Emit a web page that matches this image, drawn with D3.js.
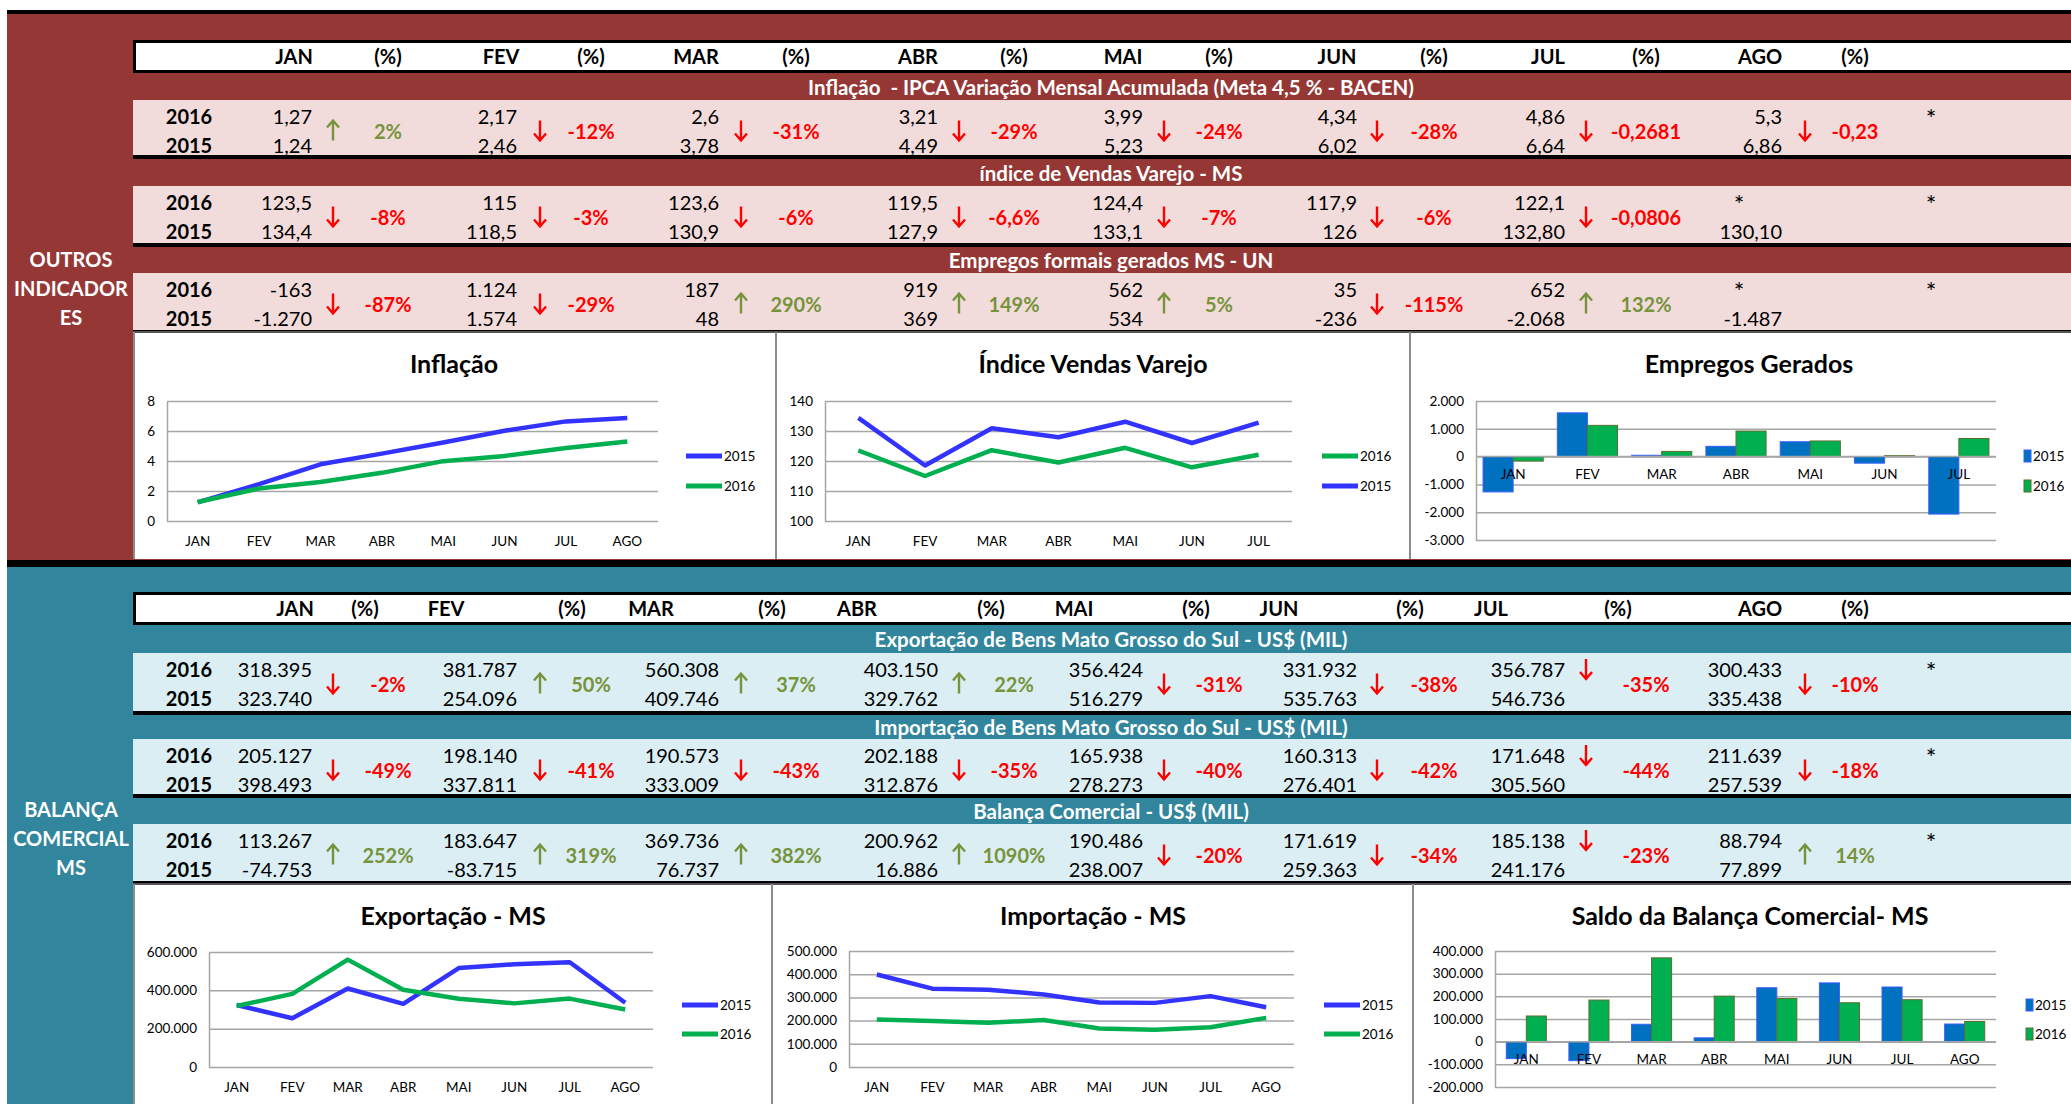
<!DOCTYPE html>
<html>
<head>
<meta charset="utf-8">
<script src="https://cdn.jsdelivr.net/npm/d3@7"></script>
<style>
body { margin: 0; background: #fff; }
svg { display: block; }
text { white-space: pre; }
</style>
</head>
<body>
<svg id="chart" width="2071" height="1104"></svg>
<script>
var months = ["JAN", "FEV", "MAR", "ABR", "MAI", "JUN", "JUL", "AGO"];

// outros indicadores (values as printed in the sheet)
var inflacao2016 = ["1,27", "2,17", "2,6", "3,21", "3,99", "4,34", "4,86", "5,3"];
var inflacao2015 = ["1,24", "2,46", "3,78", "4,49", "5,23", "6,02", "6,64", "6,86"];
var inflacaoPct = ["2%", "-12%", "-31%", "-29%", "-24%", "-28%", "-0,2681", "-0,23"];

var vendas2016 = ["123,5", "115", "123,6", "119,5", "124,4", "117,9", "122,1", "*"];
var vendas2015 = ["134,4", "118,5", "130,9", "127,9", "133,1", "126", "132,80", "130,10"];
var vendasPct = ["-8%", "-3%", "-6%", "-6,6%", "-7%", "-6%", "-0,0806", ""];

var empregos2016 = ["-163", "1.124", "187", "919", "562", "35", "652", "*"];
var empregos2015 = ["-1.270", "1.574", "48", "369", "534", "-236", "-2.068", "-1.487"];
var empregosPct = ["-87%", "-29%", "290%", "149%", "5%", "-115%", "132%", ""];

// balanca comercial
var export2016 = ["318.395", "381.787", "560.308", "403.150", "356.424", "331.932", "356.787", "300.433"];
var export2015 = ["323.740", "254.096", "409.746", "329.762", "516.279", "535.763", "546.736", "335.438"];
var exportPct = ["-2%", "50%", "37%", "22%", "-31%", "-38%", "-35%", "-10%"];

var import2016 = ["205.127", "198.140", "190.573", "202.188", "165.938", "160.313", "171.648", "211.639"];
var import2015 = ["398.493", "337.811", "333.009", "312.876", "278.273", "276.401", "305.560", "257.539"];
var importPct = ["-49%", "-41%", "-43%", "-35%", "-40%", "-42%", "-44%", "-18%"];

var saldo2016 = ["113.267", "183.647", "369.736", "200.962", "190.486", "171.619", "185.138", "88.794"];
var saldo2015 = ["-74.753", "-83.715", "76.737", "16.886", "238.007", "259.363", "241.176", "77.899"];
var saldoPct = ["252%", "319%", "382%", "1090%", "-20%", "-34%", "-23%", "14%"];

// axis ticks
var inflacaoTicks = [0, 2, 4, 6, 8];
var vendasTicks = [100, 110, 120, 130, 140];
var empregosTicks = [-3000, -2000, -1000, 0, 1000, 2000];
var exportTicks = [0, 200000, 400000, 600000];
var importTicks = [0, 100000, 200000, 300000, 400000, 500000];
var saldoTicks = [-200000, -100000, 0, 100000, 200000, 300000, 400000];

var FONT = "Lato, 'Open Sans', sans-serif";
var RED = "#953735", PINK = "#f2dcdb", TEAL = "#31859c", LIGHTBLUE = "#daeef3";
var C2015 = "#3333ff", C2016 = "#00b050", BAR2015 = "#0070c0";
var UPC = "#77933c", DOWNC = "#ff0000";
var CELL = 20, SMALL = 13.5;

var br = d3.formatLocale({decimal: ",", thousands: ".", grouping: [3], currency: ["R$", ""], minus: "-"});
var fmt = br.format(",");

function num(s) { return +s.replace(/\./g, "").replace(",", "."); }

var svg = d3.select("#chart").attr("font-family", FONT);

// column layout of the tables
var valueRight = [312, 517, 719, 938, 1143, 1357, 1565, 1782];
var arrowX = [333, 540, 741, 959, 1164, 1377, 1586, 1805];
var pctX = [388, 591, 796, 1014, 1219, 1434, 1646, 1855];

function rect(x, y, w, h, fill) {
  svg.append("rect").attr("x", x).attr("y", y).attr("width", w).attr("height", h).attr("fill", fill);
}

function txt(x, y, s, size, opts) {
  opts = opts || {};
  return svg.append("text").attr("x", x).attr("y", y)
    .attr("dominant-baseline", "central")
    .attr("text-anchor", opts.anchor || "middle")
    .attr("font-size", size)
    .attr("font-weight", opts.bold ? "bold" : "normal")
    .attr("fill", opts.color || "#000")
    .text(s);
}

function arrow(x, y, up, color) {
  var h = 10, tip = up ? y - h : y + h, back = up ? y - h + 7 : y + h - 7;
  svg.append("path")
    .attr("d", "M" + x + "," + (y - h) + "V" + (y + h) + "M" + (x - 6) + "," + back + "L" + x + "," + tip + "L" + (x + 6) + "," + back)
    .attr("fill", "none").attr("stroke", color).attr("stroke-width", 2.4);
}

function section(s) {
  rect(7, s.top, 2071, s.bottom - s.top, s.bg);
  // header bar
  rect(133, s.head, 1950, 33, "#000");
  rect(136, s.head + 3, 1950, 27, "#fff");
  months.forEach(function(m, i) {
    txt(s.monthX[i], s.head + 16, m, CELL, {bold: true});
    txt(s.pctHeadX[i], s.head + 16, "(%)", CELL, {bold: true});
  });
  s.blocks.forEach(function(b) {
    txt(1111, b.band + (b.row - b.band) / 2, b.title, 20.5, {bold: true, color: "#fff"});
    rect(133, b.row, 1950, b.end - b.row, s.rowbg);
    rect(133, b.end, 1950, 4, "#000");
    var y1 = b.row + 16, y2 = b.row + 45, ym = (y1 + y2) / 2;
    txt(189, y1, "2016", CELL, {bold: true});
    txt(189, y2, "2015", CELL, {bold: true});
    b.v2016.forEach(function(v, i) {
      if (v === "*") txt(valueRight[i] - 43, y1 + 2, v, 25);
      else txt(valueRight[i], y1, v, CELL, {anchor: "end"});
      txt(valueRight[i], y2, b.v2015[i], CELL, {anchor: "end"});
      var p = b.pct[i];
      if (p) {
        var up = p.charAt(0) !== "-";
        var col = up ? UPC : DOWNC;
        arrow(arrowX[i], (s.arrowTop && i === 6) ? y1 : ym, up, col);
        txt(pctX[i], ym, p, CELL, {bold: true, color: col});
      }
    });
    txt(1931, y1 + 2, "*", 25);
  });
  s.label.forEach(function(l, i) {
    txt(71, s.labelY + i * 29, l, CELL, {bold: true, color: "#fff"});
  });
  // chart panel
  rect(133, s.panel, 1950, s.panelEnd - s.panel, "#fff");
  svg.append("line").attr("x1", 133).attr("x2", 2071).attr("y1", s.panel).attr("y2", s.panel).attr("stroke", "#555").attr("stroke-width", 2);
  s.dividers.concat([134]).forEach(function(x) {
    svg.append("line").attr("x1", x).attr("x2", x).attr("y1", s.panel).attr("y2", s.panelEnd).attr("stroke", "#8c8c8c").attr("stroke-width", 2);
  });
}

function styleYAxis(g) {
  g.attr("font-family", FONT).attr("font-size", SMALL);
  g.selectAll(".tick line").attr("stroke", "#a6a6a6").attr("stroke-width", 1.5);
  g.select(".domain").attr("stroke", "#a6a6a6").attr("stroke-width", 1.5);
  g.selectAll("text").attr("fill", "#000");
}

function styleXAxis(g) {
  g.attr("font-family", FONT).attr("font-size", SMALL);
  g.select(".domain").remove();
  g.selectAll("text").attr("fill", "#000");
}

function frame(o) {
  var y = d3.scaleLinear().domain([o.ticks[0], o.ticks[o.ticks.length - 1]]).range([o.y1, o.y0]);
  svg.append("g").attr("transform", "translate(" + o.x0 + ",0)")
    .call(d3.axisLeft(y).tickValues(o.ticks).tickSize(-(o.x1 - o.x0)).tickSizeOuter(0).tickPadding(12).tickFormat(fmt))
    .call(styleYAxis);
  txt(o.titleX, o.titleY, o.title, 25, {bold: true});
  return y;
}

function lineChart(o) {
  var y = frame(o);
  var cats = months.slice(0, o.series[0].values.length);
  var x = d3.scaleBand().domain(cats).range([o.x0, o.x1]);
  svg.append("g").attr("transform", "translate(0," + o.y1 + ")")
    .call(d3.axisBottom(x).tickSize(0).tickPadding(15))
    .call(styleXAxis);
  var line = d3.line().x(function(d, i) { return x(cats[i]) + x.bandwidth() / 2; }).y(function(d) { return y(d); });
  o.series.forEach(function(s) {
    svg.append("path").datum(s.values).attr("d", line)
      .attr("fill", "none").attr("stroke", s.color).attr("stroke-width", 4.5).attr("stroke-linejoin", "round");
  });
  o.legend.forEach(function(s, i) {
    var ly = o.legendY[i];
    svg.append("line").attr("x1", o.legendX).attr("x2", o.legendX + 36).attr("y1", ly).attr("y2", ly)
      .attr("stroke", s.color).attr("stroke-width", 5);
    txt(o.legendX + 38, ly, s.name, SMALL, {anchor: "start"});
  });
}

function barChart(o) {
  var y = frame(o);
  var cats = months.slice(0, o.series[0].values.length);
  var x = d3.scaleBand().domain(cats).range([o.x0, o.x1]).paddingInner(o.pad).paddingOuter(o.pad / 2);
  var xs = d3.scaleBand().domain(o.series.map(function(s) { return s.name; })).range([0, x.bandwidth()]);
  o.series.forEach(function(s) {
    svg.append("g").selectAll("rect").data(s.values).join("rect")
      .attr("x", function(d, i) { return x(cats[i]) + xs(s.name); })
      .attr("y", function(d) { return y(Math.max(0, d)); })
      .attr("width", xs.bandwidth())
      .attr("height", function(d) { return Math.abs(y(d) - y(0)); })
      .attr("fill", s.color).attr("stroke", s.edge).attr("stroke-width", 1);
  });
  svg.append("line").attr("x1", o.x0).attr("x2", o.x1).attr("y1", y(0)).attr("y2", y(0))
    .attr("stroke", "#a6a6a6").attr("stroke-width", 1.5);
  svg.append("g").attr("transform", "translate(0," + y(0) + ")")
    .call(d3.axisBottom(x).tickSize(0).tickPadding(13))
    .call(styleXAxis);
  o.series.forEach(function(s, i) {
    var ly = o.legendY[i];
    svg.append("rect").attr("x", o.legendX).attr("y", ly - 6).attr("width", 7).attr("height", 12)
      .attr("fill", s.color).attr("stroke", s.edge).attr("stroke-width", 1);
    txt(o.legendX + 9, ly, s.name, SMALL, {anchor: "start"});
  });
}

// page frame
rect(7, 10, 2071, 1094, "#000");

section({
  top: 14, bottom: 560, bg: RED, rowbg: PINK, head: 40,
  monthX: [294, 501, 696, 918, 1123, 1337, 1548, 1760],
  pctHeadX: pctX,
  blocks: [
    {title: "Inflação  - IPCA Variação Mensal Acumulada (Meta 4,5 % - BACEN)", band: 73, row: 100, end: 155,
      v2016: inflacao2016, v2015: inflacao2015, pct: inflacaoPct},
    {title: "índice de Vendas Varejo - MS", band: 159, row: 186, end: 243,
      v2016: vendas2016, v2015: vendas2015, pct: vendasPct},
    {title: "Empregos formais gerados MS - UN", band: 247, row: 273, end: 330,
      v2016: empregos2016, v2015: empregos2015, pct: empregosPct}
  ],
  label: ["OUTROS", "INDICADOR", "ES"], labelY: 259,
  panel: 332, panelEnd: 559, dividers: [776, 1410]
});

section({
  top: 567, bottom: 1104, bg: TEAL, rowbg: LIGHTBLUE, head: 592, arrowTop: true,
  monthX: [295, 446, 651, 857, 1074, 1279, 1491, 1760],
  pctHeadX: [365, 572, 772, 991, 1196, 1410, 1618, 1855],
  blocks: [
    {title: "Exportação de Bens Mato Grosso do Sul - US$ (MIL)", band: 624, row: 653, end: 711,
      v2016: export2016, v2015: export2015, pct: exportPct},
    {title: "Importação de Bens Mato Grosso do Sul - US$ (MIL)", band: 715, row: 739, end: 794,
      v2016: import2016, v2015: import2015, pct: importPct},
    {title: "Balança Comercial - US$ (MIL)", band: 798, row: 824, end: 881,
      v2016: saldo2016, v2015: saldo2015, pct: saldoPct}
  ],
  label: ["BALANÇA", "COMERCIAL", "MS"], labelY: 809,
  panel: 884, panelEnd: 1104, dividers: [772, 1413]
});

// top charts
lineChart({
  title: "Inflação", titleX: 454, titleY: 363,
  x0: 167, x1: 658, y0: 401, y1: 521, ticks: inflacaoTicks,
  series: [
    {name: "2015", color: C2015, values: inflacao2015.map(num)},
    {name: "2016", color: C2016, values: inflacao2016.map(num)}
  ],
  legend: [{name: "2015", color: C2015}, {name: "2016", color: C2016}],
  legendX: 686, legendY: [456, 486]
});

lineChart({
  title: "Índice Vendas Varejo", titleX: 1093, titleY: 363,
  x0: 825, x1: 1292, y0: 401, y1: 521, ticks: vendasTicks,
  series: [
    {name: "2015", color: C2015, values: vendas2015.slice(0, 7).map(num)},
    {name: "2016", color: C2016, values: vendas2016.slice(0, 7).map(num)}
  ],
  legend: [{name: "2016", color: C2016}, {name: "2015", color: C2015}],
  legendX: 1322, legendY: [456, 486]
});

barChart({
  title: "Empregos Gerados", titleX: 1749, titleY: 363,
  x0: 1476, x1: 1996, y0: 401, y1: 540, ticks: empregosTicks, pad: 0.19,
  series: [
    {name: "2015", color: BAR2015, edge: "#3d5cff", values: empregos2015.slice(0, 7).map(num)},
    {name: "2016", color: C2016, edge: "#5b6e2e", values: empregos2016.slice(0, 7).map(num)}
  ],
  legendX: 2024, legendY: [456, 486]
});

// bottom charts
lineChart({
  title: "Exportação - MS", titleX: 453, titleY: 915,
  x0: 209, x1: 653, y0: 952, y1: 1067, ticks: exportTicks,
  series: [
    {name: "2015", color: C2015, values: export2015.map(num)},
    {name: "2016", color: C2016, values: export2016.map(num)}
  ],
  legend: [{name: "2015", color: C2015}, {name: "2016", color: C2016}],
  legendX: 682, legendY: [1005, 1034]
});

lineChart({
  title: "Importação - MS", titleX: 1093, titleY: 915,
  x0: 849, x1: 1294, y0: 951, y1: 1067, ticks: importTicks,
  series: [
    {name: "2015", color: C2015, values: import2015.map(num)},
    {name: "2016", color: C2016, values: import2016.map(num)}
  ],
  legend: [{name: "2015", color: C2015}, {name: "2016", color: C2016}],
  legendX: 1324, legendY: [1005, 1034]
});

barChart({
  title: "Saldo da Balança Comercial- MS", titleX: 1750, titleY: 915,
  x0: 1495, x1: 1996, y0: 951, y1: 1087, ticks: saldoTicks, pad: 0.36,
  series: [
    {name: "2015", color: BAR2015, edge: "#3d5cff", values: saldo2015.map(num)},
    {name: "2016", color: C2016, edge: "#5b6e2e", values: saldo2016.map(num)}
  ],
  legendX: 2026, legendY: [1005, 1034]
});
</script>
</body>
</html>
